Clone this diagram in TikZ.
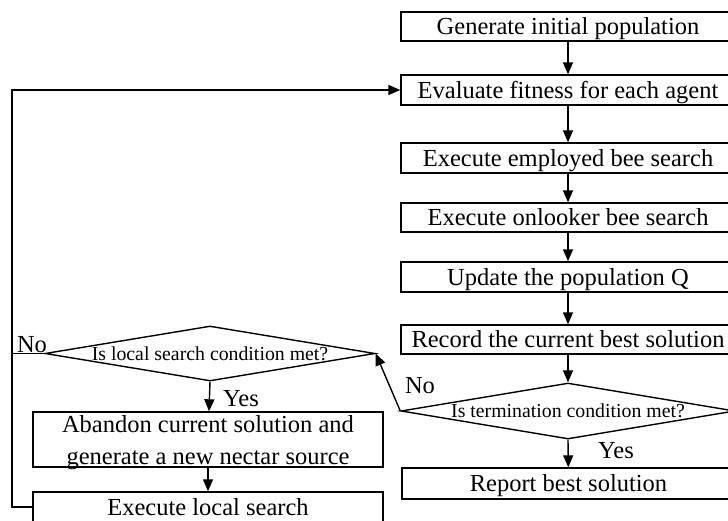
\documentclass[tikz,border=0pt]{standalone}
\usepackage{fontspec}
\setmainfont{Liberation Serif}
\usetikzlibrary{arrows.meta,shapes.geometric}
\newcommand{\boxfont}{\fontsize{24.5}{31}\selectfont}
\newcommand{\twofont}{\fontsize{24.5}{32}\selectfont}
\newcommand{\dfont}{\fontsize{19.8}{24}\selectfont}
\newcommand{\dtext}[1]{\makebox[0pt]{\dfont #1}}
\begin{document}
\begin{tikzpicture}[x=1pt,y=-1pt,
  flowbox/.style={draw, line width=1.4pt, rectangle, inner sep=0pt,
    minimum width=334pt, minimum height=30pt,
    text height=16.5pt, text depth=0pt, font=\boxfont},
  decision/.style={draw, line width=1.4pt, diamond, aspect=1, inner sep=0pt,
    text height=13pt, text depth=0pt},
  arr/.style={line width=1.4pt, -{Triangle[length=12pt,width=10pt]}},
  plain/.style={line width=1.4pt},
  lbl/.style={inner sep=0pt, text height=16.5pt, text depth=0pt, font=\boxfont}]
\clip (0,0) rectangle (728,520);
\path[use as bounding box] (0,0) rectangle (728,520);

% main column
\node[flowbox, minimum height=29pt] (gen) at (568,26.5) {Generate initial population};
\node[flowbox] (eval) at (568,90) {Evaluate fitness for each agent};
\node[flowbox] (emp) at (568,158) {Execute employed bee search};
\node[flowbox, minimum height=29pt] (onl) at (568,217.5) {Execute onlooker bee search};
\node[flowbox] (upd) at (568,277) {Update the population Q};
\node[flowbox, minimum height=29pt] (rec) at (568,339.5) {Record the current best solution};
\node[decision, minimum width=334pt, minimum height=56pt] (term) at (568,411)
  {\dtext{Is termination condition met?}};
\node[flowbox, minimum width=333pt, minimum height=31pt] (rep) at (568.5,483.5) {Report best solution};

% left column
\node[draw, line width=1.4pt, rectangle, inner sep=0pt, minimum width=350pt,
  minimum height=55pt, font=\twofont] (aband) at (208,439.5)
  {\raisebox{-9pt}[0pt][0pt]{\begin{tabular}{@{}c@{}}Abandon current solution and\\generate a new nectar source\end{tabular}}};
\node[decision, minimum width=330pt, minimum height=55pt] (local) at (210,353.5)
  {\dtext{Is local search condition met?}};
\node[flowbox, minimum width=350pt] (exec) at (208,507) {Execute local search};

\coordinate (loop) at (12,90);

% connectors
\draw[arr] (gen) -- (eval);
\draw[arr] (eval) -- (emp);
\draw[arr] (emp) -- (onl);
\draw[arr] (onl) -- (upd);
\draw[arr] (upd) -- (rec);
\draw[arr] (rec) -- (term.north);
\draw[arr] (term.south) -- (rep) node[lbl] at (616,450) {Yes};
\draw[arr] (term.west) -- (local.east) node[lbl] at (420,385) {No};
\draw[arr] (local.south) -- (aband) node[lbl] at (241,398) {Yes};
\draw[arr] (aband) -- (exec);
\draw[plain] (local.west) -- (local.west -| loop) node[lbl] at (32,344) {No};
\draw[arr] (exec.west) -- (exec.west -| loop) -- (loop) -- (eval.west);
\end{tikzpicture}
\end{document}
